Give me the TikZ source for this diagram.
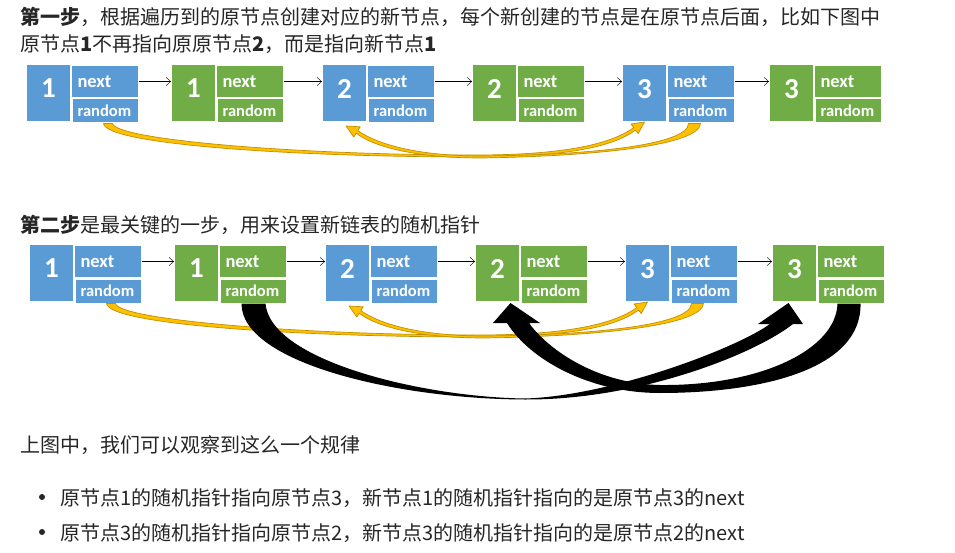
\documentclass[tikz,border=0pt]{standalone}
\usepackage{fontspec}
\setmainfont{Noto Sans CJK SC}
\newfontfamily\boxfont{Carlito}
\usetikzlibrary{calc,arrows.meta}

\definecolor{nblue}{HTML}{5B9BD5}
\definecolor{ngreen}{HTML}{70AD47}
\definecolor{goldfill}{HTML}{FFC000}
\definecolor{goldline}{HTML}{BF9000}
\definecolor{txt}{HTML}{262626}

\tikzset{
  numbox/.style={draw=white, line width=1pt, minimum width=44pt, minimum height=57pt,
    inner sep=0pt, text depth=9pt, text=white, font=\boxfont\bfseries\fontsize{29}{29}\selectfont},
  nextbox/.style={draw=white, line width=1pt, anchor=north west, minimum height=32pt,
    text width=55pt, inner xsep=6pt, inner ysep=0pt, align=left, text=white,
    font=\boxfont\bfseries\fontsize{18.5}{18.5}\selectfont},
  rndbox/.style={draw=white, line width=1pt, anchor=north west, minimum height=24pt,
    text width=56pt, inner xsep=5pt, inner ysep=0pt, align=left, text=white,
    font=\boxfont\bfseries\fontsize{16.5}{16.5}\selectfont},
  txtline/.style={anchor=base west, inner sep=0pt, text=txt, font=\fontsize{20}{24}\selectfont},
  goldarrow/.style={fill=goldfill, draw=goldline, line width=0.7pt, line join=round},
  >={Straight Barb[length=4.5pt,width=8pt]}
}

\begin{document}
\begin{tikzpicture}[x=1pt,y=-1pt]
\useasboundingbox (0,0) rectangle (955,553);

% texts
\node[txtline] (t1) at (20,25) {\textbf{第一步}，根据遍历到的原节点创建对应的新节点，每个新创建的节点是在原节点后面，比如下图中};
\node[txtline] (t2) at (20,52) {原节点\textbf{1}不再指向原原节点\textbf{2}，而是指向新节点\textbf{1}};
\node[txtline] (t3) at (20,233) {\textbf{第二步}是最关键的一步，用来设置新链表的随机指针};
\node[txtline] (t4) at (20,452) {上图中，我们可以观察到这么一个规律};
\node[circle, fill=txt, inner sep=0pt, minimum size=6pt] (d1) at (42,497) {};
\node[circle, fill=txt, inner sep=0pt, minimum size=6pt] (d2) at (42,532) {};
\node[txtline] (t5) at (60,505) {原节点1的随机指针指向原节点3，新节点1的随机指针指向的是原节点3的next};
\node[txtline] (t6) at (60,540) {原节点3的随机指针指向原节点2，新节点3的随机指针指向的是原节点2的next};

% the two lists
\foreach \r/\dx/\dy in {a/0/0, b/3/180}{
  \foreach \i/\x/\c/\v in {1/27/nblue/1, 2/172/ngreen/1, 3/323/nblue/2,
                           4/473/ngreen/2, 5/623/nblue/3, 6/770/ngreen/3}{
    \node[numbox, fill=\c] (\r\i) at (\x+\dx+21.5, 93+\dy) {\v};
    \node[nextbox, fill=\c] (\r\i-n) at (\x+\dx+44, 65+\dy) {next};
    \node[rndbox, fill=\c] (\r\i-r) at (\x+\dx+45, 98.5+\dy) {random};
  }
  \foreach \i/\j in {1/2, 2/3, 3/4, 4/5, 5/6}
    \draw[->] (\r\i-n.east) -- (\r\j.west |- \r\i-n.east);

  % random of original node 1 -> original node 3
  \filldraw[goldarrow]
    ($(\r1-r.south)+(-2,0)$) .. controls (106+\dx,145+\dy) and (300+\dx,157+\dy) .. (475+\dx,157+\dy)
    .. controls (560+\dx,157+\dy) and (612+\dx,148+\dy) .. (635.5+\dx,130+\dy)
    -- (638.2+\dx,133.6+\dy) -- (\r5.south) -- (631+\dx,124+\dy) -- (633.7+\dx,127.6+\dy)
    .. controls (610+\dx,145+\dy) and (560+\dx,155+\dy) .. (475+\dx,155+\dy)
    .. controls (300+\dx,155+\dy) and (116+\dx,140+\dy) .. ($(\r1-r.south)+(7,0)$) -- cycle;
  % random of original node 3 -> original node 2
  \filldraw[goldarrow]
    ($(\r5-r.south)+(-1,0)$) .. controls (699+\dx,145+\dy) and (600+\dx,156+\dy) .. (482+\dx,158+\dy)
    .. controls (420+\dx,158+\dy) and (375+\dx,148+\dy) .. (356.2+\dx,133.2+\dy)
    -- (353.8+\dx,137+\dy) -- ($(\r3.south)+(1.5,4)$) -- (360.2+\dx,126.8+\dy) -- (357.8+\dx,130.6+\dy)
    .. controls (378+\dx,145+\dy) and (420+\dx,156+\dy) .. (482+\dx,156+\dy)
    .. controls (590+\dx,155+\dy) and (688+\dx,145+\dy) .. ($(\r5-r.south)+(-13,0)$) -- cycle;
}

% random of new node 1 -> new node 3
\fill[black]
  ($(b2-r.south)+(-12,0)$) .. controls (241,362) and (395,399) .. (525,399.5)
  .. controls (640,400) and (755,354) .. (793,324)
  -- (803,324) -- ($(b6.south)+(-6,1)$) -- (758,324) -- (770,324)
  .. controls (735,349) and (610,396) .. (525,398.5)
  .. controls (420,397) and (270,360) .. ($(b2-r.south)+(12,0)$) -- cycle;
% random of new node 3 -> new node 2
\fill[black]
  ($(b6-r.south)+(9,0)$) .. controls (862,370) and (760,393) .. (660,393)
  .. controls (590,393) and (530,360) .. (507,323)
  -- (493,323) -- ($(b4.south)+(13,1)$) -- (540,323) -- (529,323)
  .. controls (550,352) and (600,384) .. (660,385)
  .. controls (760,386) and (836,350) .. ($(b6-r.south)+(-14,0)$) -- cycle;

\end{tikzpicture}
\end{document}
